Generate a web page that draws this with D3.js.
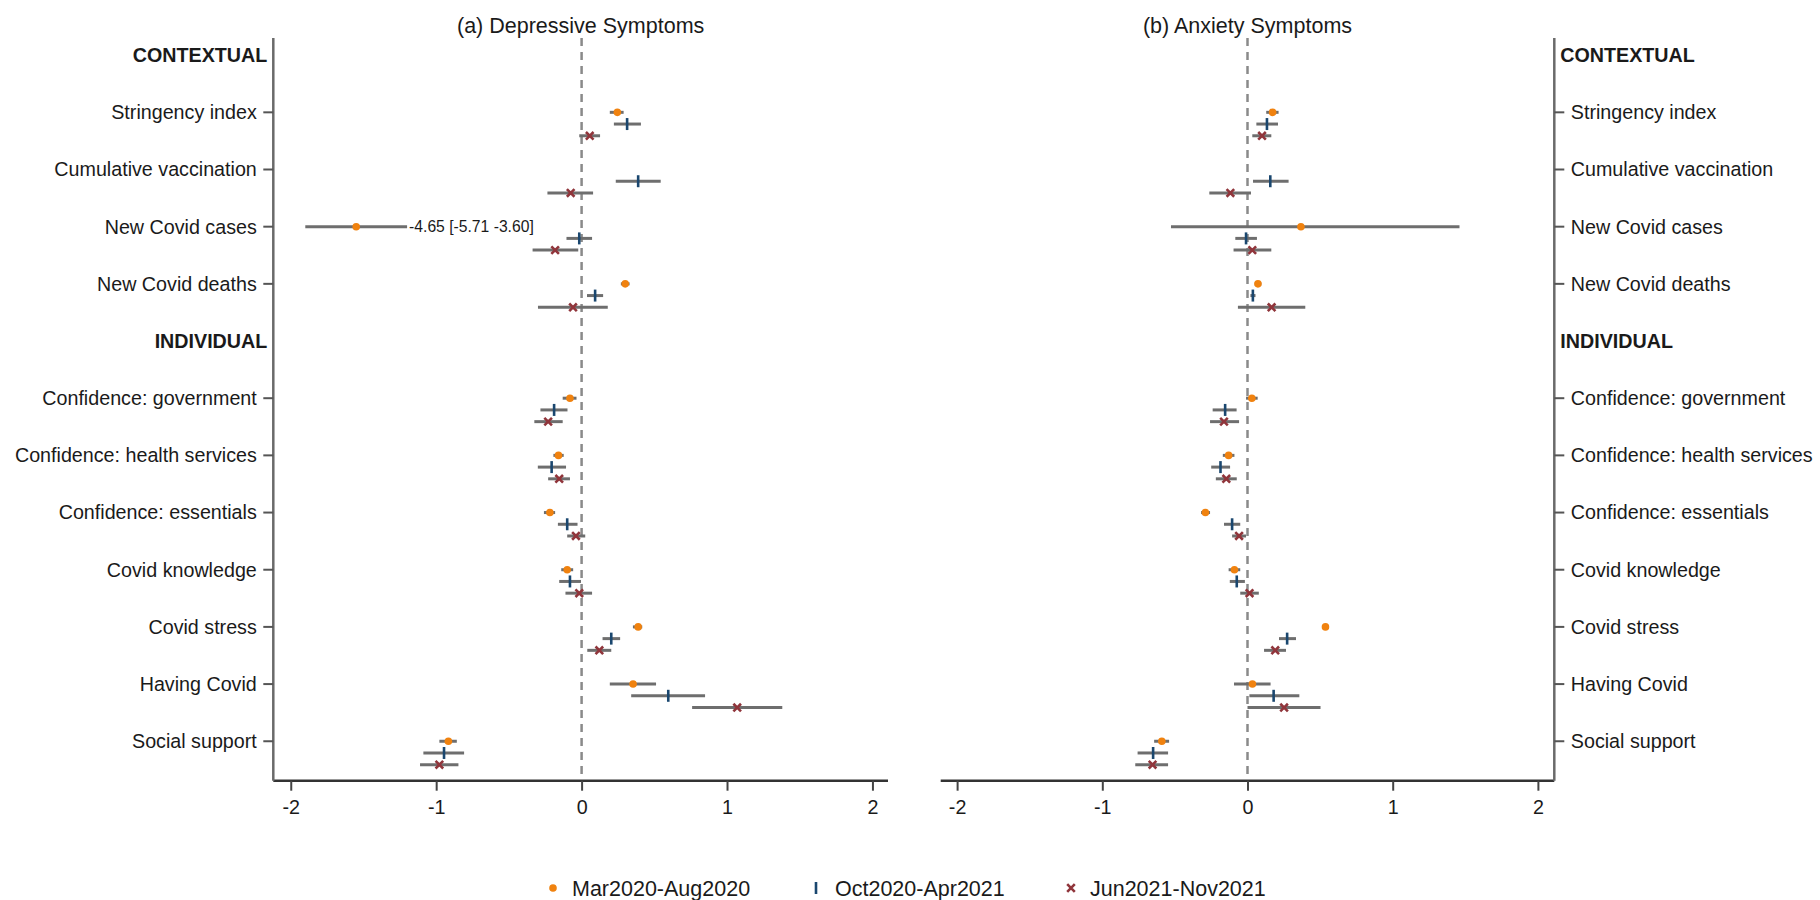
<!DOCTYPE html>
<html>
<head>
<meta charset="utf-8">
<script src="https://cdn.jsdelivr.net/npm/d3@7"></script>
<style>
  body { margin: 0; background: #fff; }
  svg text { font-family: "Liberation Sans", Arial, sans-serif; fill: #1a1a1a; }
</style>
</head>
<body>
<div id="chart"></div>
<script>
(function(){
// rows from top to bottom, headers have no tick
const rowLabels = ["CONTEXTUAL", "Stringency index", "Cumulative vaccination", "New Covid cases", "New Covid deaths",
  "INDIVIDUAL", "Confidence: government", "Confidence: health services", "Confidence: essentials",
  "Covid knowledge", "Covid stress", "Having Covid", "Social support"];
const headerRows = ["CONTEXTUAL", "INDIVIDUAL"];
const variables = rowLabels.filter(d => !headerRows.includes(d));

const periods = ["Mar2020-Aug2020", "Oct2020-Apr2021", "Jun2021-Nov2021"];
const periodColors = ["#f0820f", "#1a476f", "#90353b"];
const xTicks = [-2, -1, 0, 1, 2];
const panelTitles = ["(a) Depressive Symptoms", "(b) Anxiety Symptoms"];

// [estimate, lower, upper] per variable, null = not estimated
const depMar = [[0.246, 0.194, 0.289], null, [-1.55, -1.90, -1.20], [0.30, 0.27, 0.33],
  [-0.08, -0.13, -0.035], [-0.159, -0.194, -0.123], [-0.218, -0.259, -0.182], [-0.099, -0.14, -0.058],
  [0.389, 0.353, 0.417], [0.354, 0.194, 0.512], [-0.916, -0.978, -0.858]];
const depOct = [[0.313, 0.222, 0.408], [0.389, 0.235, 0.544], [-0.016, -0.104, 0.072], [0.093, 0.037, 0.148],
  [-0.189, -0.283, -0.097], [-0.206, -0.301, -0.107], [-0.099, -0.163, -0.028], [-0.08, -0.154, -0.004],
  [0.204, 0.144, 0.265], [0.596, 0.341, 0.849], [-0.946, -1.088, -0.808]];
const depJun = [[0.056, -0.016, 0.127], [-0.075, -0.235, 0.079], [-0.182, -0.337, -0.023], [-0.059, -0.30, 0.18],
  [-0.23, -0.325, -0.13], [-0.154, -0.23, -0.08], [-0.039, -0.099, 0.025], [-0.016, -0.111, 0.072],
  [0.122, 0.039, 0.204], [1.07, 0.76, 1.38], [-0.978, -1.111, -0.847]];

const anxMar = [[0.173, 0.129, 0.214], null, [0.368, -0.527, 1.46], [0.072, 0.05, 0.095],
  [0.03, -0.01, 0.07], [-0.13, -0.17, -0.09], [-0.29, -0.32, -0.258], [-0.09, -0.13, -0.05],
  [0.537, 0.515, 0.56], [0.034, -0.093, 0.159], [-0.59, -0.643, -0.54]];
const anxOct = [[0.134, 0.061, 0.21], [0.157, 0.038, 0.283], [-0.01, -0.084, 0.065], [0.037, 0.02, 0.055],
  [-0.154, -0.24, -0.075], [-0.186, -0.25, -0.12], [-0.106, -0.162, -0.05], [-0.074, -0.122, -0.018],
  [0.273, 0.217, 0.334], [0.18, 0.013, 0.357], [-0.65, -0.757, -0.547]];
const anxJun = [[0.1, 0.033, 0.164], [-0.118, -0.263, 0.024], [0.033, -0.096, 0.164], [0.166, -0.066, 0.398],
  [-0.162, -0.258, -0.058], [-0.146, -0.218, -0.074], [-0.058, -0.106, -0.01], [0.014, -0.05, 0.078],
  [0.191, 0.114, 0.265], [0.252, 0.0, 0.503], [-0.654, -0.773, -0.547]];

// the cases estimate in (a) is shown at 1/3 scale, real value written beside it
const outlierNote = { panel: 0, variable: "New Covid cases", period: 0, text: "-4.65 [-5.71 -3.60]" };

const panels = [
  { title: panelTitles[0], series: [depMar, depOct, depJun], left: 273.3, right: 888, domain: [-2.12, 2.107], side: "left" },
  { title: panelTitles[1], series: [anxMar, anxOct, anxJun], left: 940.7, right: 1554.3, domain: [-2.113, 2.113], side: "right" }
];

const width = 1820, height = 900;
const top = 38, bottom = 780.7;
const fs = 19.7;

const svg = d3.select("#chart").append("svg")
  .attr("width", width)
  .attr("height", height);

// row index scale, period offset 0.205 of a row
const y = d3.scaleLinear().domain([-0.3, 12.69]).range([top, bottom]);
const periodOffset = 0.205;

panels.forEach(function(p, pi) {
  const x = d3.scaleLinear().domain(p.domain).range([p.left, p.right]);
  const g = svg.append("g");

  g.append("text")
    .attr("x", (p.left + p.right) / 2)
    .attr("y", 32.5)
    .attr("text-anchor", "middle")
    .style("font-size", "21.5px")
    .text(p.title);

  // zero reference line
  g.append("line")
    .attr("x1", x(0)).attr("x2", x(0))
    .attr("y1", top).attr("y2", bottom)
    .attr("stroke", "#8a8a8a")
    .attr("stroke-width", 2.5)
    .attr("stroke-dasharray", "8,6");

  // x axis
  const xAxis = g.append("g").attr("transform", `translate(0,${bottom})`)
    .call(d3.axisBottom(x).tickValues(xTicks).tickSize(10).tickPadding(9).tickFormat(d => String(d)));
  xAxis.select(".domain").attr("stroke", "#333").attr("stroke-width", 2.5)
    .attr("d", `M${p.left},0H${p.right}`);
  xAxis.selectAll(".tick line").attr("stroke", "#444").attr("stroke-width", 2);
  xAxis.selectAll(".tick text")
    .style("font-size", fs + "px")
    .style("font-family", "'Liberation Sans', Arial, sans-serif")
    .attr("fill", "#1a1a1a");

  // y axis line
  const ax = p.side === "left" ? p.left : p.right;
  g.append("line")
    .attr("x1", ax).attr("x2", ax)
    .attr("y1", top).attr("y2", bottom)
    .attr("stroke", "#6a6a6a").attr("stroke-width", 2.5);

  const dir = p.side === "left" ? -1 : 1;
  rowLabels.forEach(function(lab, i) {
    const isHead = headerRows.includes(lab);
    if (!isHead) {
      g.append("line")
        .attr("x1", ax).attr("x2", ax + dir * 10)
        .attr("y1", y(i)).attr("y2", y(i))
        .attr("stroke", "#555").attr("stroke-width", 2);
    }
    g.append("text")
      .attr("x", ax + dir * (isHead ? 6 : 16.5))
      .attr("y", y(i))
      .attr("dy", "0.35em")
      .attr("text-anchor", p.side === "left" ? "end" : "start")
      .style("font-size", fs + "px")
      .style("font-weight", isHead ? "bold" : "normal")
      .text(lab);
  });

  // confidence intervals then markers
  p.series.forEach(function(vals, si) {
    const pts = vals.map((v, vi) => v ? { est: v[0], lo: v[1], hi: v[2], row: rowLabels.indexOf(variables[vi]) } : null)
      .filter(d => d);
    const sg = g.append("g");
    sg.selectAll("line.ci").data(pts).join("line")
      .attr("class", "ci")
      .attr("x1", d => x(d.lo)).attr("x2", d => x(d.hi))
      .attr("y1", d => y(d.row + si * periodOffset))
      .attr("y2", d => y(d.row + si * periodOffset))
      .attr("stroke", "#6e6e6e").attr("stroke-width", 3);
    drawMarkers(sg, pts.map(d => ({ cx: x(d.est), cy: y(d.row + si * periodOffset) })), si);

    if (outlierNote.panel === pi && outlierNote.period === si) {
      const d = pts.find(q => q.row === rowLabels.indexOf(outlierNote.variable));
      g.append("text")
        .attr("x", x(d.hi) + 2)
        .attr("y", y(d.row + si * periodOffset))
        .attr("dy", "0.35em")
        .style("font-size", "15.7px")
        .text(outlierNote.text);
    }
  });
});

function drawMarkers(sel, pts, si) {
  const col = periodColors[si];
  if (si === 0) {
    sel.selectAll("circle").data(pts).join("circle")
      .attr("cx", d => d.cx).attr("cy", d => d.cy).attr("r", 3.8)
      .attr("fill", col);
  } else if (si === 1) {
    sel.selectAll("line.mk").data(pts).join("line")
      .attr("class", "mk")
      .attr("x1", d => d.cx).attr("x2", d => d.cx)
      .attr("y1", d => d.cy - 6).attr("y2", d => d.cy + 6)
      .attr("stroke", col).attr("stroke-width", 2.6);
  } else {
    sel.selectAll("path.mk").data(pts).join("path")
      .attr("class", "mk")
      .attr("d", d => `M${d.cx - 3.8},${d.cy - 3.8}L${d.cx + 3.8},${d.cy + 3.8}M${d.cx - 3.8},${d.cy + 3.8}L${d.cx + 3.8},${d.cy - 3.8}`)
      .attr("stroke", col).attr("stroke-width", 2.6);
  }
}

// legend
const legendX = [553, 816, 1071];
const legendY = 888;
periods.forEach(function(name, i) {
  const lg = svg.append("g");
  drawMarkers(lg, [{ cx: legendX[i], cy: legendY }], i);
  lg.append("text")
    .attr("x", legendX[i] + 19)
    .attr("y", legendY)
    .attr("dy", "0.35em")
    .style("font-size", "21.5px")
    .text(name);
});
})();
</script>
</body>
</html>
